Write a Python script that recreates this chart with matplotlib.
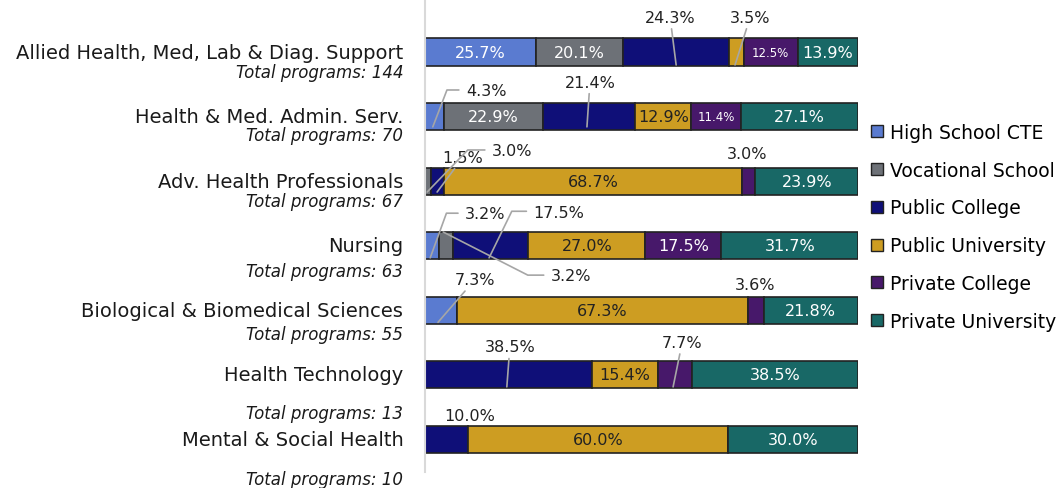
import numpy as np
import matplotlib.pyplot as plt
from matplotlib.patches import Patch

plt.rcParams['font.family'] = ['DejaVu Sans']

categories = ["Allied Health, Med, Lab & Diag. Support", "Health & Med. Admin. Serv.",
              "Adv. Health Professionals", "Nursing", "Biological & Biomedical Sciences",
              "Health Technology", "Mental & Social Health"]
totals = [144, 70, 67, 63, 55, 13, 10]

series = ["High School CTE", "Vocational School", "Public College",
          "Public University", "Private College", "Private University"]
hs_cte = [25.7, 4.3, 0.0, 3.2, 7.3, 0.0, 0.0]
vocational = [20.1, 22.9, 1.5, 3.2, 0.0, 0.0, 0.0]
public_college = [24.3, 21.4, 3.0, 17.5, 0.0, 38.5, 10.0]
public_univ = [3.5, 12.9, 68.7, 27.0, 67.3, 15.4, 60.0]
private_college = [12.5, 11.4, 3.0, 17.5, 3.6, 7.7, 0.0]
private_univ = [13.9, 27.1, 23.9, 31.7, 21.8, 38.5, 30.0]

colors = ['#5a7bd0', '#6d7177', '#0f0f78', '#cd9d22', '#47186a', '#186866']
text_colors = ['white', 'white', 'white', '#222222', 'white', 'white']

# offset of the "Total programs" line under each category label
total_dy = [0.31, 0.29, 0.31, 0.40, 0.37, 0.60, 0.62]

# outside labels: (category, series, text x, text y, line end x, line end y, angleB or None)
callouts = [
    (0, 2, 56.6, -0.54, 58.0, 0.20, None),
    (0, 3, 75.1, -0.54, 71.6, 0.20, None),
    (1, 0, 14.1, 0.60, 1.8, 1.16, 69),
    (1, 2, 38.1, 0.465, 37.4, 1.16, None),
    (2, 1, 8.8, 1.63, 2.8, 2.17, None),
    (2, 2, 20.1, 1.53, 0.5, 2.17, 46),
    (2, 4, 74.4, 1.58, None, None, None),
    (3, 0, 13.9, 2.51, 1.2, 3.19, 70),
    (3, 2, 30.9, 2.48, 14.8, 3.19, 64),
    (3, 1, 33.7, 3.47, 4.2, 2.79, -27),
    (4, 0, 11.5, 3.53, 3.0, 4.19, None),
    (4, 4, 76.2, 3.61, None, None, None),
    (5, 2, 19.6, 4.57, 18.9, 5.19, None),
    (5, 4, 59.4, 4.50, 57.3, 5.19, None),
    (6, 2, 10.4, 5.64, None, None, None),
]

data = np.array([hs_cte, vocational, public_college, public_univ, private_college, private_univ])
n = len(categories)
y = np.arange(n)

fig = plt.figure(figsize=(10.61, 4.89), dpi=100)
ax = fig.add_axes([425 / 1061, 16 / 489, 433 / 1061, 473 / 489])

outside = {(c, s) for c, s, *_ in callouts}
left = np.zeros(n)
for s in range(len(series)):
    vals = data[s]
    ax.barh(y, vals, left=left, height=0.42, color=colors[s],
            edgecolor='#222222', linewidth=1.2, label=series[s])
    for i in range(n):
        v = vals[i]
        if v > 0 and (i, s) not in outside:
            fs = 8.5 if (s == 4 and v < 13) else 11.5
            ax.text(left[i] + v / 2, i, f"{v:.1f}%", ha='center', va='center',
                    color=text_colors[s], fontsize=fs)
    left = left + vals

for c, s, tx, ty, ex, ey, ang in callouts:
    label = f"{data[s][c]:.1f}%"
    if ex is None:
        ax.text(tx, ty, label, ha='center', va='center', fontsize=11.5, color='#222222')
    elif ang is None:
        ax.annotate(label, xy=(ex, ey), xytext=(tx, ty), ha='center', va='center',
                    fontsize=11.5, color='#222222', annotation_clip=False,
                    arrowprops=dict(arrowstyle='-', color='#a6a6a6', lw=1.2,
                                    shrinkA=1, shrinkB=0))
    else:
        ax.annotate(label, xy=(ex, ey), xytext=(tx, ty), ha='center', va='center',
                    fontsize=11.5, color='#222222', annotation_clip=False,
                    arrowprops=dict(arrowstyle='-', color='#a6a6a6', lw=1.2,
                                    shrinkA=3, shrinkB=0, relpos=(0, 0.55),
                                    connectionstyle=f"angle,angleA=0,angleB={ang},rad=0"))

for i in range(n):
    ax.text(-5, i, categories[i], ha='right', va='center', fontsize=14, color='#1a1a1a')
    ax.text(-5, i + total_dy[i], f"Total programs: {totals[i]}", ha='right', va='center',
            fontsize=12, style='italic', color='#1a1a1a', clip_on=False)

ax.set_xlim(0, 100)
ax.set_ylim(6.51, -0.822)
ax.set_xticks([])
ax.set_yticks([])
for side in ['top', 'right', 'bottom']:
    ax.spines[side].set_visible(False)
ax.spines['left'].set_color('#d9d9d9')
ax.spines['left'].set_linewidth(1.5)

handles = [Patch(facecolor=colors[s], edgecolor='#222222', linewidth=1.0) for s in range(len(series))]
fig.legend(handles, series, loc='upper left', bbox_to_anchor=(871 / 1061, 1 - 124 / 489),
           frameon=False, fontsize=13.5, handlelength=0.62, handleheight=0.62,
           handletextpad=0.4, labelspacing=1.0, borderpad=0, borderaxespad=0)

fig.savefig('out.png', dpi=100)
